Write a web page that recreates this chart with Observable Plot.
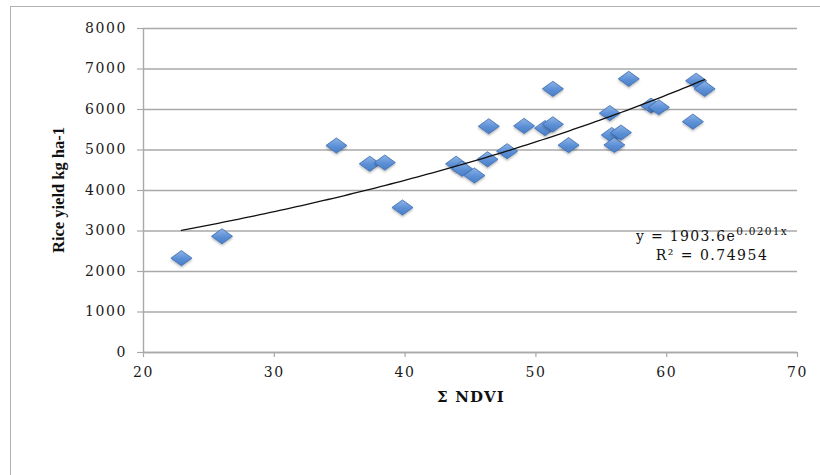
<!DOCTYPE html>
<html>
<head>
<meta charset="utf-8">
<script src="https://cdn.jsdelivr.net/npm/d3@7"></script>
<script src="https://cdn.jsdelivr.net/npm/@observablehq/plot@0.6"></script>
<style>
  html, body { margin: 0; padding: 0; background: #fff; width: 820px; height: 475px; overflow: hidden; }
  #frame { position: absolute; left: 10px; top: 6px; width: 900px; height: 600px; border: 1.5px solid #b2b2b2; box-sizing: border-box; }
  #chart { position: absolute; left: 0; top: 0; }
</style>
</head>
<body>
<div id="frame"></div>
<div id="chart"></div>
<script>
// Σ NDVI values (x) and rice yield kg/ha (y)
const ndvi = [22.9, 26.0, 34.75, 37.3, 38.45, 39.8, 43.9, 44.35, 45.3, 46.3, 46.4,
              47.8, 49.1, 50.7, 51.3, 51.3, 52.5, 55.65, 55.8, 56.0, 56.5, 57.1,
              58.8, 59.4, 62.0, 62.25, 62.9];
const yieldKg = [2330, 2870, 5110, 4660, 4690, 3580, 4660, 4535, 4370, 4770, 5585,
                 4970, 5595, 5540, 5635, 6510, 5120, 5910, 5370, 5125, 5430, 6757,
                 6095, 6055, 5700, 6710, 6510];
const xTicks = [20, 30, 40, 50, 60, 70];
const yTicks = [0, 1000, 2000, 3000, 4000, 5000, 6000, 7000, 8000];
// Exponential trendline as printed on the chart: y = 1903.6 e^(0.0201 x)
const trendA = 1903.6;
const trendB = 0.0201;
const rSquared = "0.74954";

const points = ndvi.map((x, i) => ({x, y: yieldKg[i]}));
const xMin = d3.min(ndvi), xMax = d3.max(ndvi);
const trend = d3.range(0, 101).map(i => {
  const x = xMin + (xMax - xMin) * i / 100;
  return {x, y: trendA * Math.exp(trendB * x)};
});

const wideDiamond = {
  draw(context, size) {
    const r = Math.sqrt(size / Math.PI);
    const w = r, h = r * 0.72;
    context.moveTo(0, -h);
    context.lineTo(w, 0);
    context.lineTo(0, h);
    context.lineTo(-w, 0);
    context.closePath();
  }
};

const chart = Plot.plot({
  width: 820,
  height: 475,
  marginLeft: 143,
  marginRight: 23,
  marginTop: 28,
  marginBottom: 123,
  style: {fontFamily: "DejaVu Serif, serif", background: "transparent", overflow: "visible"},
  x: {domain: [20, 70], ticks: xTicks, label: null},
  y: {domain: [0, 8000], ticks: yTicks, label: null},
  marks: [
    Plot.gridY(yTicks, {stroke: "#a9a9a9", strokeOpacity: 1, strokeWidth: 1.4}),
    Plot.ruleX([20], {stroke: "#a9a9a9", strokeWidth: 1.4}),
    Plot.ruleY([0], {stroke: "#a9a9a9", strokeWidth: 1.4}),
    Plot.axisY(yTicks, {tickSize: 6, stroke: "#a9a9a9", strokeWidth: 1.2, tickPadding: 12, fontSize: 14, fill: "#1a1a1a", label: null, tickFormat: d => String(d)}),
    Plot.axisX(xTicks, {tickSize: 5, stroke: "#a9a9a9", strokeWidth: 1.2, tickPadding: 10, fontSize: 14, fill: "#1a1a1a", label: null, tickFormat: d => String(d)}),
    Plot.dot(points, {x: "x", y: "y", symbol: wideDiamond, r: 10.5, fill: "url(#dgrad)", stroke: "#3a6cae", strokeWidth: 0.8}),
    Plot.line(trend, {x: "x", y: "y", stroke: "#111", strokeWidth: 1.3})
  ]
});

// gradient + shadow definitions
const svg = d3.select(chart);
const defs = svg.insert("defs", ":first-child");
const g = defs.append("linearGradient").attr("id", "dgrad").attr("x1", 0).attr("y1", 0).attr("x2", 0).attr("y2", 1);
g.append("stop").attr("offset", "0%").attr("stop-color", "#8fb4e6");
g.append("stop").attr("offset", "55%").attr("stop-color", "#5b8fd6");
g.append("stop").attr("offset", "100%").attr("stop-color", "#4a7ec6");
const f = defs.append("filter").attr("id", "shadow").attr("x", "-30%").attr("y", "-30%").attr("width", "160%").attr("height", "170%");
f.append("feDropShadow").attr("dx", 0).attr("dy", 1.5).attr("stdDeviation", 1).attr("flood-color", "#000").attr("flood-opacity", 0.3);
svg.selectAll("[aria-label=dot] path").attr("filter", "url(#shadow)");
svg.selectAll('[aria-label$="tick label"] text').style("letter-spacing", "1.6px");
svg.selectAll('[aria-label="y-axis tick label"] text').attr("dx", "1.6px");

const sx = chart.scale("x"), sy = chart.scale("y");

// axis titles
svg.append("text")
  .attr("transform", `translate(60, ${(sy.apply(0) + sy.apply(8000)) / 2}) rotate(-90)`)
  .attr("text-anchor", "middle").attr("dominant-baseline", "middle")
  .style("font-family", "'Liberation Serif', serif").style("font-weight", "bold").style("font-size", "16.5px")
  .attr("fill", "#111")
  .text("Rice yield kg ha-1");
svg.append("text")
  .attr("x", (sx.apply(20) + sx.apply(70)) / 2 + 1).attr("y", sy.apply(0) + 46)
  .attr("text-anchor", "middle").attr("dominant-baseline", "middle")
  .style("font-family", "'DejaVu Serif', serif").style("font-weight", "bold").style("font-size", "15px")
  .style("letter-spacing", "1.2px")
  .attr("fill", "#111")
  .text("Σ NDVI");

// trendline equation
const eqX = sx.apply(63.5);
const eq = svg.append("text")
  .attr("x", eqX).attr("y", sy.apply(2830))
  .attr("text-anchor", "middle").attr("dominant-baseline", "middle")
  .style("font-family", "'DejaVu Serif', serif").style("font-size", "14px")
  .attr("fill", "#111").style("letter-spacing", "1.3px");
eq.append("tspan").text(`y = ${trendA}e`);
eq.append("tspan").style("font-size", "10.5px").attr("dy", -5).text(`${trendB}x`);
svg.append("text")
  .attr("x", eqX).attr("y", sy.apply(2370))
  .attr("text-anchor", "middle").attr("dominant-baseline", "middle")
  .style("font-family", "'DejaVu Serif', serif").style("font-size", "14px")
  .attr("fill", "#111").style("letter-spacing", "1.5px")
  .text(`R² = ${rSquared}`);

document.getElementById("chart").appendChild(chart);
</script>
</body>
</html>
